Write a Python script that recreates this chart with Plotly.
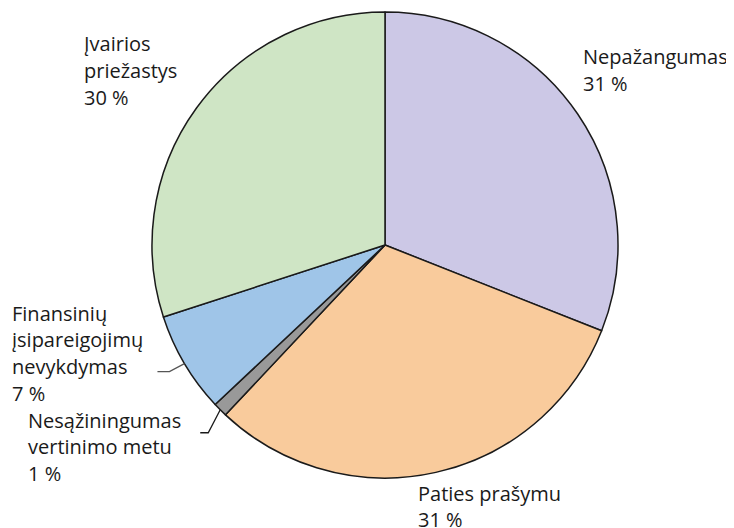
import numpy as np
import plotly.graph_objects as go

labels = ["Nepažangumas", "Paties prašymu", "Nesąžiningumas vertinimo metu",
          "Finansinių įsipareigojimų nevykdymas", "Įvairios priežastys"]
values = [31, 31, 1, 7, 30]
colors = ["#CCC8E6", "#F9CB9C", "#999999", "#9FC5E8", "#CFE5C5"]

label_lines = [
    ["Nepažangumas", "31 %"],
    ["Paties prašymu", "31 %"],
    ["Nesąžiningumas", "vertinimo metu", "1 %"],
    ["Finansinių", "įsipareigojimų", "nevykdymas", "7 %"],
    ["Įvairios", "priežastys", "30 %"],
]
# top-left of each label block (screen px) : styling
label_pos = [(583, 57), (418, 493), (28, 420), (12, 313), (84, 44)]
line_gap = 26.7

W, H = 734, 528
OFF = 8  # page body margin
cx, cy, R = 385 - OFF, 245 - OFF, 233

fig = go.Figure(go.Pie(
    labels=labels, values=values, sort=False, direction="clockwise", rotation=0,
    marker=dict(colors=colors, line=dict(color="#1a1a1a", width=1.5)),
    textinfo="none", hoverinfo="label+percent", showlegend=False,
    domain=dict(x=[(cx - R) / W, (cx + R) / W], y=[(H - cy - R) / H, (H - cy + R) / H]),
))

def px(x, y):
    return x / W, 1 - y / H

ann = []
for lines, (x0, y0) in zip(label_lines, label_pos):
    for i, t in enumerate(lines):
        ax, ay = px(x0 - OFF - 2, y0 - OFF + i * line_gap)
        ann.append(dict(x=ax, y=ay, xref="paper", yref="paper", text=t, showarrow=False,
                        xanchor="left", yanchor="middle",
                        font=dict(family="Open Sans", size=20, color="#1a1a1a")))

# leader lines from slice mid-angles
tot = sum(values)
cum = np.cumsum([0] + values)
shapes = []
leaders = {3: ((-15, 8), (-12, 0), "#555555"), 2: ((-12, 23), (-8, 0), "#1a1a1a")}
for idx, (d1, d2, col) in leaders.items():
    th = 2 * np.pi * (cum[idx] + values[idx] / 2) / tot
    sx, sy = cx + R * np.sin(th), cy - R * np.cos(th)
    ex, ey = sx + d1[0], sy + d1[1]
    fx, fy = ex + d2[0], ey + d2[1]
    pts = [px(sx, sy), px(ex, ey), px(fx, fy)]
    path = "M {} {} L {} {} L {} {}".format(*[v for p in pts for v in p])
    shapes.append(dict(type="path", path=path, xref="paper", yref="paper",
                       line=dict(color=col, width=1.3)))

fig.update_layout(width=W, height=H, margin=dict(l=0, r=0, t=0, b=0),
                  paper_bgcolor="white", plot_bgcolor="white",
                  annotations=ann, shapes=shapes)
fig.write_html("out.html")
